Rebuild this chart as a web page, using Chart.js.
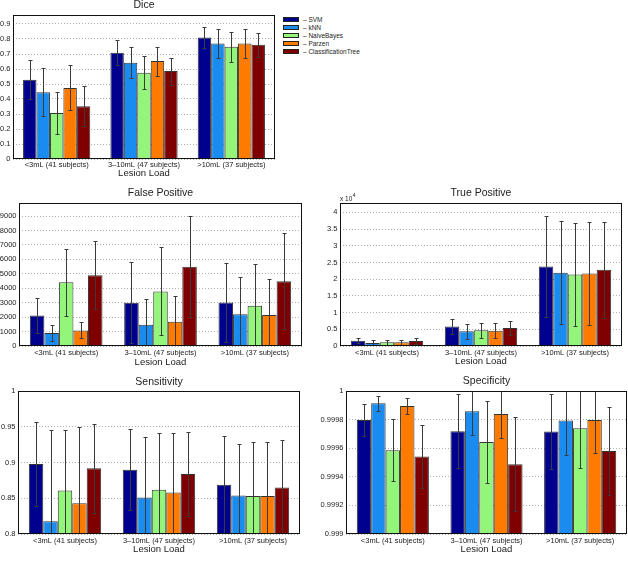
<!DOCTYPE html>
<html><head><meta charset="utf-8">
<script src="https://cdn.jsdelivr.net/npm/chart.js@4.4.0/dist/chart.umd.min.js"></script>
<style>
html,body{margin:0;padding:0;background:#fff;width:628px;height:569px;overflow:hidden;position:relative;font-family:"Liberation Sans",Arial,sans-serif;}
canvas{position:absolute;}
.lrow{position:absolute;height:8px;font-size:6.5px;line-height:8px;color:#222;white-space:nowrap;}
.sw{position:absolute;left:0;top:1px;width:16px;height:5px;border:1px solid #222;box-sizing:border-box;}
.lt{position:absolute;left:20px;top:0;}
</style></head><body>
<div id="legend"></div>
<script>
// ---------------- data ----------------
const categories = ['<3mL (41 subjects)', '3\u201310mL (47 subjects)', '>10mL (37 subjects)'];
const methods = ['SVM', 'kNN', 'NaiveBayes', 'Parzen', 'ClassificationTree'];

// rows: SVM, kNN, NaiveBayes, Parzen, ClassificationTree ; columns: lesion load groups
const diceMean = [[0.528,0.709,0.810],[0.445,0.642,0.770],[0.306,0.575,0.749],[0.474,0.653,0.770],[0.351,0.586,0.761]];
const diceStd  = [[0.130,0.085,0.070],[0.160,0.105,0.100],[0.140,0.110,0.100],[0.150,0.097,0.100],[0.133,0.090,0.080]];

const fpMean = [[2120,2990,3020],[900,1470,2190],[4420,3780,2790],[1080,1680,2140],[4900,5480,4490]];
const fpStd  = [[1200,2800,2760],[540,1780,2600],[2330,3050,2870],[550,1800,2510],[2360,3500,3300]];

const tpMean = [[1600,5800,23800],[900,4400,21900],[1100,4700,21400],[1100,4600,21700],[1500,5400,22800]];
const tpStd  = [[750,2300,15200],[800,2300,15400],[800,2200,15300],[800,2300,15300],[800,2100,14400]];

const sensMean = [[0.898,0.890,0.869],[0.818,0.851,0.854],[0.861,0.862,0.853],[0.843,0.858,0.853],[0.892,0.884,0.865]];
const sensStd  = [[0.059,0.057,0.068],[0.128,0.085,0.072],[0.085,0.079,0.075],[0.107,0.083,0.075],[0.062,0.059,0.067]];

const specMean = [[0.999798,0.999719,0.999716],[0.999914,0.999858,0.999793],[0.999586,0.999644,0.999740],[0.999895,0.999840,0.999798],[0.999542,0.999488,0.999581]];
const specStd  = [[0.000111,0.000260,0.000260],[0.000051,0.000165,0.000244],[0.000216,0.000288,0.000275],[0.000053,0.000166,0.000235],[0.000221,0.000328,0.000308]];

// axis ranges and tick values
const diceRange = [0, 0.96];
const diceTickValues = [0, 0.1, 0.2, 0.3, 0.4, 0.5, 0.6, 0.7, 0.8, 0.9];
const fpRange = [0, 9900];
const fpTickValues = [0, 1000, 2000, 3000, 4000, 5000, 6000, 7000, 8000, 9000];
const tpRange = [0, 42800];
const tpTickValues = [0, 5000, 10000, 15000, 20000, 25000, 30000, 35000, 40000];
const tpTickScale = 10000; // "x 10^4"
const sensRange = [0.8, 1];
const sensTickValues = [0.8, 0.85, 0.9, 0.95, 1];
const specRange = [0.999, 1];
const specTickValues = [0.999, 0.9992, 0.9994, 0.9996, 0.9998, 1];

// ---------------- styles / layout ----------------
const methodColors = ['#00008f','#1a8cf0','#93f57a','#ff7b00','#7f0000'];
const FONT = '"Liberation Sans", Arial, Helvetica, sans-serif';
const TEXT = '#222';
const layout = {
  dice: {l:13, t:15, r:275, b:159, titleY:5,     tickY:165, axisY:173},
  fp:   {l:19, t:203, r:302, b:346, titleY:193.3, tickY:353, axisY:362},
  tp:   {l:340,t:203, r:622, b:346, titleY:193,   tickY:353, axisY:361.7},
  sens: {l:18, t:391, r:300, b:534, titleY:381.7, tickY:541, axisY:549.7},
  spec: {l:346,t:391, r:627, b:534, titleY:381.3, tickY:541, axisY:549.7}
};

const errorBars = {
  id: 'errorBars',
  afterDatasetsDraw(chart, args, opts) {
    const stds = opts.stds; if (!stds) return;
    const {ctx, chartArea: a} = chart; const y = chart.scales.y;
    ctx.save();
    ctx.beginPath(); ctx.rect(a.left, a.top, a.right - a.left, a.bottom - a.top); ctx.clip();
    ctx.strokeStyle = '#3a3a3a'; ctx.lineWidth = 1;
    chart.data.datasets.forEach((ds, i) => {
      chart.getDatasetMeta(i).data.forEach((bar, j) => {
        const v = ds.data[j], e = stds[i][j];
        const x = Math.round(bar.x) + 0.5;
        const yt = Math.round(y.getPixelForValue(v + e)) + 0.5;
        const yb = Math.round(y.getPixelForValue(v - e)) + 0.5;
        ctx.beginPath();
        ctx.moveTo(x, yt); ctx.lineTo(x, yb);
        ctx.moveTo(x - 2, yt); ctx.lineTo(x + 2, yt);
        ctx.moveTo(x - 2, yb); ctx.lineTo(x + 2, yb);
        ctx.stroke();
      });
    });
    ctx.restore();
  }
};
const frame = {
  id: 'frame',
  afterDraw(chart, args, opts) {
    const {ctx, chartArea: a} = chart;
    ctx.save();
    ctx.strokeStyle = '#111'; ctx.lineWidth = 1;
    const l = Math.round(a.left) + 0.5, t = Math.round(a.top) + 0.5;
    const r = Math.round(a.right) - 0.5, b = Math.round(a.bottom) - 0.5;
    ctx.strokeRect(l, t, r - l, b - t);
    if (opts.exponent) {
      ctx.fillStyle = TEXT; ctx.textBaseline = 'middle'; ctx.textAlign = 'left';
      ctx.font = '6.5px ' + FONT;
      ctx.fillText('x 10', a.left, a.top - 4);
      const w = ctx.measureText('x 10').width;
      ctx.font = '5px ' + FONT;
      ctx.fillText(opts.exponent, a.left + w + 0.5, a.top - 7);
    }
    ctx.restore();
  }
};

function fmt(v, scale) { return String(parseFloat((v / (scale || 1)).toFixed(5))); }

function makeChart(key, title, means, stds, range, tickValues, tickScale, exponent) {
  const L = layout[key];
  const yw = 45, tickLH = 7.5 * 1.2, axLH = 9.5 * 1.2, titleLH = 10.5;
  const cl = L.l - yw, ct = Math.floor(L.titleY - 8);
  const w = L.r + 2 - cl;
  const xh = Math.ceil(L.axisY + axLH / 2) - L.b;
  const h = L.b + xh - ct;
  const padTop = L.titleY - ct - titleLH / 2;
  const padBot = L.t - ct - padTop - titleLH;
  const cv = document.createElement('canvas');
  cv.width = w; cv.height = h;
  cv.style.left = cl + 'px'; cv.style.top = ct + 'px';
  cv.style.width = w + 'px'; cv.style.height = h + 'px';
  document.body.appendChild(cv);
  new Chart(cv, {
    type: 'bar',
    data: {
      labels: categories,
      datasets: methods.map((m, i) => ({
        label: m, data: means[i], backgroundColor: methodColors[i],
        borderColor: 'rgba(0,0,0,0.8)', borderWidth: 1,
        categoryPercentage: 0.77, barPercentage: 1
      }))
    },
    options: {
      responsive: false, animation: false, devicePixelRatio: 1, events: [],
      layout: {padding: {left: 0, right: 2, top: 0, bottom: 0}},
      plugins: {
        legend: {display: false}, tooltip: {enabled: false},
        title: {display: true, text: title, fullSize: false, color: TEXT,
          font: {family: FONT, size: 10.5, weight: 'normal', lineHeight: 1},
          padding: {top: padTop, bottom: padBot}},
        errorBars: {stds: stds},
        frame: {exponent: exponent || null}
      },
      scales: {
        x: {
          type: 'category', offset: true,
          grid: {display: false, drawTicks: false}, border: {display: false},
          ticks: {padding: L.tickY - L.b - tickLH / 2, color: TEXT, maxRotation: 0, autoSkip: false,
                  font: {family: FONT, size: 7.5}},
          title: {display: true, text: 'Lesion Load', color: TEXT,
                  font: {family: FONT, size: 9.5}, padding: {top: 0, bottom: (L.b + xh) - L.axisY - axLH / 2}},
          afterFit(s) { s.height = xh; }
        },
        y: {
          min: range[0], max: range[1],
          grid: {color: '#b0b0b0', lineWidth: 1, drawTicks: false},
          border: {display: false, dash: [1, 2]},
          ticks: {padding: 2.5, color: TEXT, font: {family: FONT, size: 7.5},
                  callback: v => fmt(v, tickScale)},
          afterBuildTicks(s) { s.ticks = tickValues.map(v => ({value: v})); },
          afterFit(s) { s.width = yw; }
        }
      }
    },
    plugins: [errorBars, frame]
  });
}

makeChart('dice', 'Dice', diceMean, diceStd, diceRange, diceTickValues, 1);
makeChart('fp', 'False Positive', fpMean, fpStd, fpRange, fpTickValues, 1);
makeChart('tp', 'True Positive', tpMean, tpStd, tpRange, tpTickValues, tpTickScale, '4');
makeChart('sens', 'Sensitivity', sensMean, sensStd, sensRange, sensTickValues, 1);
makeChart('spec', 'Specificity', specMean, specStd, specRange, specTickValues, 1);

// HTML legend built from the dataset names/colours
const legendBox = {left: 283, firstCenter: 20.3, rowStep: 7.85};
const lg = document.getElementById('legend');
methods.forEach((m, i) => {
  const row = document.createElement('div');
  row.className = 'lrow';
  row.style.left = legendBox.left + 'px';
  row.style.top = (legendBox.firstCenter + i * legendBox.rowStep - 4) + 'px';
  const sw = document.createElement('div'); sw.className = 'sw'; sw.style.background = methodColors[i];
  const tx = document.createElement('div'); tx.className = 'lt'; tx.textContent = '\u2013 ' + m;
  row.appendChild(sw); row.appendChild(tx);
  lg.appendChild(row);
});
</script>
</body></html>
